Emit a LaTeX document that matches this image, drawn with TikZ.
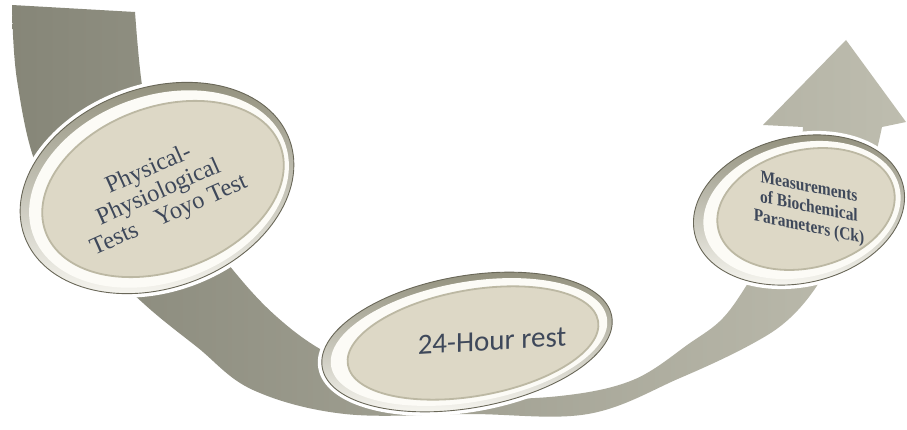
\documentclass[tikz,border=0pt]{standalone}
\usepackage{fontspec}
\setmainfont{Liberation Serif}
\newfontfamily\calib{Carlito}
\usetikzlibrary{shapes.geometric}
\definecolor{arrowA}{RGB}{134,134,120}
\definecolor{arrowB}{RGB}{190,189,175}
\definecolor{beige}{RGB}{221,216,198}
\definecolor{rimdark}{RGB}{140,138,118}
\definecolor{rimedge}{RGB}{105,103,88}
\definecolor{rimlight}{RGB}{252,251,246}
\definecolor{faceedge}{RGB}{188,184,163}
\definecolor{txt}{RGB}{62,72,90}
\tikzset{
  glow/.style={ellipse, fill=white, inner sep=0pt},
  rim/.style={ellipse, inner sep=0pt, top color=rimdark, bottom color=rimlight, draw=rimedge, line width=0.9pt},
  ring/.style={ellipse, inner sep=0pt, fill=rimlight},
  face/.style={ellipse, inner sep=0pt, fill=beige, draw=faceedge, line width=1.8pt},
  lbl/.style={text=txt, align=center, inner sep=0pt},
}
\begin{document}
\begin{tikzpicture}[x=1pt,y=-1pt]
\useasboundingbox (0,0) rectangle (907,430);
\fill[white] (0,0) rectangle (907,430);
% curved arrow
\shade[left color=arrowA, right color=arrowB]
  plot[smooth, tension=0.6] coordinates {(12,5) (17,80) (38,170) (85,245) (143,303) (197,347) (253,390) (345,414) (470,414) (588,414) (680,378) (750,345) (790,318) (822,278) (850,222) (870,175) (882,127)}
  -- (906,122) -- (846,40) -- (763,125) -- (803,127)
  -- plot[smooth, tension=0.6] coordinates {(803,127) (797,180) (780,230) (750,280) (723,318) (690,343) (633,380) (560,396) (470,398) (400,385) (327,353) (277,317) (233,270) (185,205) (155,140) (142,85) (135,12)}
  -- cycle;
% ellipse 1
\node[glow, rotate=20, minimum width=290pt, minimum height=208pt] (g1) at (157,188) {};
\node[rim, rotate=20, minimum width=282pt, minimum height=200pt] (r1) at (157,188) {};
\node[ring, rotate=20, minimum width=268pt, minimum height=186pt] (w1) at (159,189) {};
\node[face, rotate=20, minimum width=250pt, minimum height=164pt] (e1) at (163,189) {};
\node[lbl, rotate=24, font=\fontsize{24.4}{25}\selectfont] (t1) at (159,193)
  {Physical-\\Physiological\\Tests\hspace{0.85em}Yoyo Test};
% ellipse 2
\node[glow, rotate=10, minimum width=302pt, minimum height=140pt] (g2) at (467,342) {};
\node[rim, rotate=10, minimum width=294pt, minimum height=132pt] (r2) at (467,342) {};
\node[ring, rotate=10, minimum width=280pt, minimum height=120pt] (w2) at (469,342) {};
\node[face, rotate=10, minimum width=254pt, minimum height=106pt] (e2) at (473,343) {};
\node[lbl, yslant=0.06, font=\calib\fontsize{29}{30}\selectfont] (t2) at (492,341) {24-Hour rest};
% ellipse 3
\node[glow, rotate=13, minimum width=222pt, minimum height=154pt] (g3) at (799,210) {};
\node[rim, rotate=13, minimum width=214pt, minimum height=146pt] (r3) at (799,210) {};
\node[ring, rotate=13, minimum width=200pt, minimum height=134pt] (w3) at (802,210) {};
\node[face, rotate=13, minimum width=180pt, minimum height=118pt] (e3) at (806,209) {};
\node[lbl, yslant=-0.2, font=\bfseries\fontsize{18}{20}\selectfont] (t3) at (809,208)
  {\scalebox{0.86}[1]{\begin{tabular}{@{}c@{}}Measurements\\of Biochemical\\Parameters (Ck)\end{tabular}}};
\end{tikzpicture}
\end{document}
